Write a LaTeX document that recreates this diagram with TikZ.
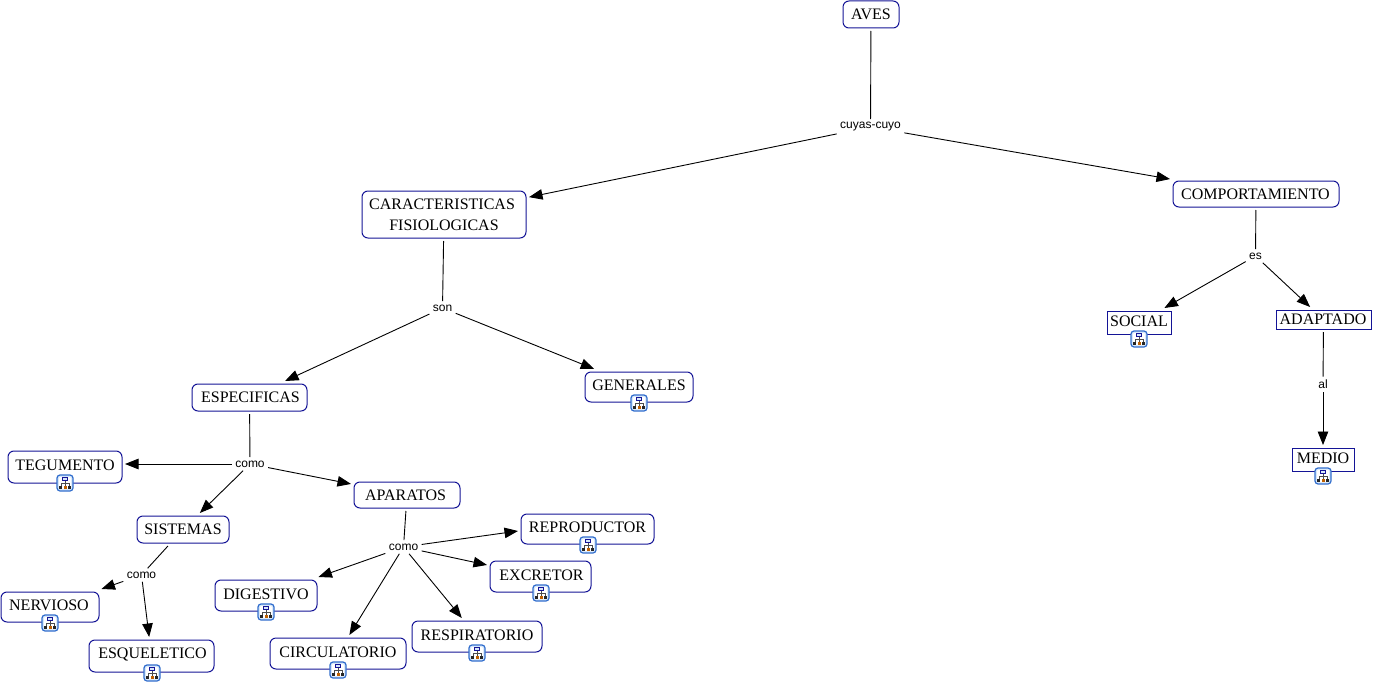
\documentclass[tikz,border=0pt]{standalone}
\usepackage{fontspec}
\setmainfont{Liberation Serif}
\newfontfamily\labelfont{Liberation Sans}
\usetikzlibrary{arrows.meta}
\definecolor{boxblue}{RGB}{20,20,150}
\definecolor{iconblue}{RGB}{50,110,205}
\definecolor{iconfill}{RGB}{215,232,250}
\newcommand{\mv}[3]{\raisebox{#2pt}{\kern#1pt #3\kern-#1pt}}
\tikzset{
  concept/.style={draw=boxblue,line width=1pt,rounded corners=6pt,fill=white,inner sep=0pt,outer sep=3pt,align=center,text=black,font=\fontsize{16}{21}\selectfont},
  sharpbox/.style={concept,rounded corners=0pt},
  linkword/.style={inner sep=1pt,outer sep=2.5pt,font=\labelfont\fontsize{12}{14}\selectfont,text=black},
  plainline/.style={draw=black,line width=0.9pt},
  arrowline/.style={plainline,-{Triangle[length=13.5pt,width=10.5pt]}},
  hier/.pic={
    \draw[iconblue,line width=1.2pt,fill=iconfill,rounded corners=3pt] (-8,-8) rectangle (8,8);
    \fill[white,rounded corners=1pt] (-6,-6) rectangle (6,6);
    \draw[black!70,line width=0.7pt] (0,-3) -- (0,3) (-4,3) -- (-4,0.5) -- (4,0.5) -- (4,3);
    \draw[boxblue,fill=iconfill,line width=0.7pt] (-2.2,-6) rectangle (2.2,-2.5);
    \fill[black!85] (-6,2.5) rectangle (-2.8,5.8);
    \fill[orange!75!black] (-1.5,2.5) rectangle (1.5,5.8);
    \fill[black!85] (2.8,2.5) rectangle (6,5.8);
  }
}
\begin{document}
\begin{tikzpicture}[x=1pt,y=-1pt]
\useasboundingbox (0,0) rectangle (1373,685);
% concepts
\node[concept,minimum width=56pt,minimum height=27pt] (aves) at (871,14.5) {AVES};
\node[concept,minimum width=164pt,minimum height=47pt] (carac) at (444,214.5) {\mv{-2}{0}{CARACTERISTICAS}\\FISIOLOGICAS};
\node[concept,minimum width=166pt,minimum height=26pt] (comp) at (1256,194) {\mv{-0.5}{0}{COMPORTAMIENTO}};
\node[sharpbox,minimum width=64pt,minimum height=23pt] (social) at (1139,322.5) {\mv{0}{2.5}{SOCIAL}};
\node[sharpbox,minimum width=95pt,minimum height=19pt] (adapt) at (1323.5,319.5) {\mv{-0.5}{-2}{ADAPTADO}};
\node[sharpbox,minimum width=62pt,minimum height=23pt] (medio) at (1323,459.5) {\mv{0}{2.5}{MEDIO}};
\node[concept,minimum width=115pt,minimum height=27pt] (espec) at (249.5,397.5) {\mv{1}{-2}{ESPECIFICAS}};
\node[concept,minimum width=108pt,minimum height=30pt] (gener) at (639,387) {\mv{0}{4}{GENERALES}};
\node[concept,minimum width=114pt,minimum height=32pt] (tegum) at (65,467) {\mv{0}{4}{TEGUMENTO}};
\node[concept,minimum width=92pt,minimum height=27pt] (siste) at (183,529.5) {SISTEMAS};
\node[concept,minimum width=106pt,minimum height=26pt] (apara) at (407,495) {\mv{-1.5}{0}{APARATOS}};
\node[concept,minimum width=133pt,minimum height=30pt] (repro) at (587.5,529) {\mv{0}{4}{REPRODUCTOR}};
\node[concept,minimum width=101pt,minimum height=31pt] (excre) at (540.5,576.5) {\mv{1}{3}{EXCRETOR}};
\node[concept,minimum width=102pt,minimum height=31pt] (diges) at (266,595.5) {\mv{0}{3}{DIGESTIVO}};
\node[concept,minimum width=130pt,minimum height=31pt] (respi) at (477,636.5) {\mv{0}{3}{RESPIRATORIO}};
\node[concept,minimum width=136pt,minimum height=31pt] (circu) at (338,653.5) {\mv{0}{2}{CIRCULATORIO}};
\node[concept,minimum width=98pt,minimum height=30pt] (nervi) at (50,607) {\mv{-1}{4}{NERVIOSO}};
\node[concept,minimum width=125pt,minimum height=32pt] (esque) at (151.5,656) {\mv{1}{5}{ESQUELETICO}};
% linking words
\node[linkword] (l1) at (870.5,127) {cuyas-cuyo};
\node[linkword] (l2) at (442.5,308) {son};
\node[linkword] (l3) at (1255.5,256) {es};
\node[linkword] (l4) at (1323,384.5) {al};
\node[linkword] (l5) at (250,464) {como};
\node[linkword] (l6) at (403.5,547) {como};
\node[linkword] (l7) at (141.5,575) {como};
% connectors
\draw[plainline] (aves) -- (l1);
\draw[arrowline] (l1) -- (carac);
\draw[arrowline] (l1) -- (comp);
\draw[plainline] (carac) -- (l2);
\draw[arrowline] (l2) -- (espec);
\draw[arrowline] (l2) -- (gener);
\draw[plainline] (comp) -- (l3);
\draw[arrowline] (l3) -- (social);
\draw[arrowline] (l3) -- (adapt);
\draw[plainline] (adapt) -- (l4);
\draw[arrowline] (l4) -- (medio);
\draw[plainline] (espec) -- (l5);
\draw[arrowline] (l5.west) -- (tegum.east |- l5.west);
\draw[arrowline] (l5) -- (siste);
\draw[arrowline] (l5) -- (apara);
\draw[plainline] (apara) -- (l6);
\draw[arrowline] (l6) -- ([yshift=-2pt]repro.west);
\draw[arrowline] (l6) -- (excre);
\draw[arrowline] (l6) -- (diges);
\draw[arrowline] (l6) -- (respi);
\draw[arrowline] (l6) -- (circu);
\draw[plainline] (siste) -- (l7);
\draw[arrowline] (l7) -- (nervi);
\draw[arrowline] (l7) -- (esque);
% resource icons
\pic at (1139,339) {hier};
\pic at (639,403) {hier};
\pic at (1323,476) {hier};
\pic at (65,483) {hier};
\pic at (50,623) {hier};
\pic at (152,673) {hier};
\pic at (266,612) {hier};
\pic at (338,670) {hier};
\pic at (477,653) {hier};
\pic at (541,593) {hier};
\pic at (588,545) {hier};
\end{tikzpicture}
\end{document}
